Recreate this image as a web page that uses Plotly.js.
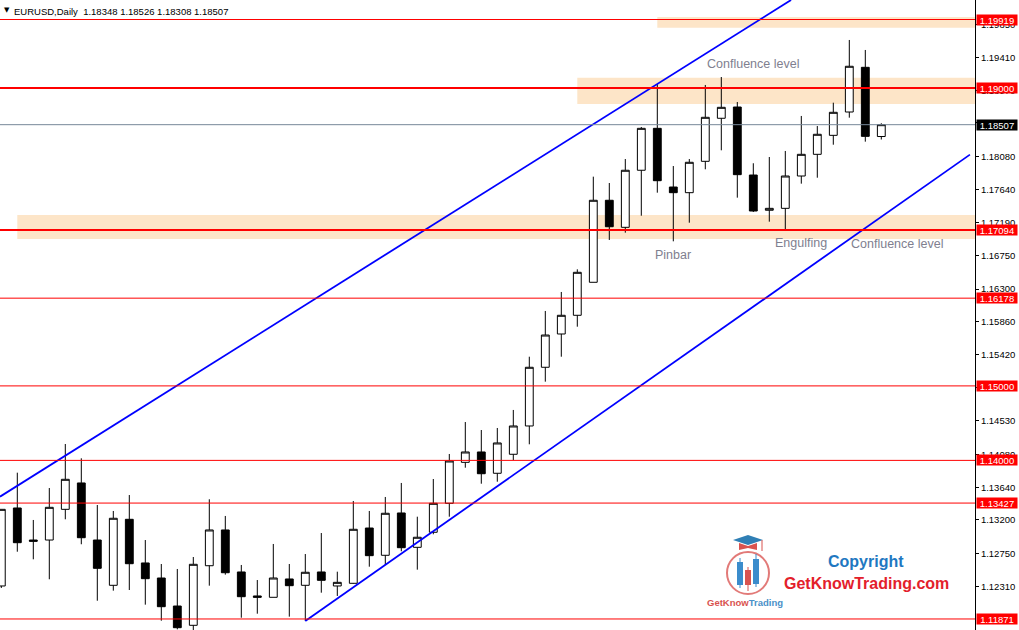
<!DOCTYPE html>
<html>
<head>
<meta charset="utf-8">
<script src="https://cdn.plot.ly/plotly-3.0.1.min.js"></script>
<style>html,body{margin:0;padding:0;background:#fff;}#chart{width:1019px;height:630px;}</style>
</head>
<body>
<div id="chart"></div>
<script>
// ---- Data (EURUSD Daily) ----
const openP  = [1.12314,1.13361,1.12931,1.12931,1.13343,1.13697,1.12931,1.12323,1.13209,1.12623,
                1.12421,1.12045,1.11786,1.12586,1.13066,1.12502,1.12180,1.12162,1.12408,1.12323,
                1.12502,1.12314,1.12350,1.13092,1.12726,1.13294,1.12833,1.13035,1.13424,1.13974,
                1.14113,1.13827,1.14082,1.14462,1.15250,1.15697,1.15948,1.16391,1.17492,1.17129,
                1.17895,1.18458,1.17670,1.17594,1.18015,1.18593,1.18744,1.17831,1.17358,1.17384,
                1.17818,1.18109,1.18364,1.18677,1.19277,1.18348];
const highP  = [1.13343,1.13835,1.13200,1.13629,1.14220,1.14028,1.13401,1.13321,1.13535,1.12931,
                1.12609,1.12542,1.12703,1.13478,1.13254,1.12596,1.12394,1.12878,1.12609,1.12743,
                1.13025,1.12506,1.13455,1.13321,1.13509,1.13697,1.13244,1.13750,1.14086,1.14515,
                1.14408,1.14435,1.14677,1.15392,1.16006,1.16261,1.16565,1.17809,1.17724,1.18046,
                1.18476,1.19053,1.17952,1.18046,1.19040,1.19147,1.18811,1.17989,1.18073,1.18154,
                1.18624,1.18489,1.18802,1.19644,1.19510,1.18526];
const lowP   = [1.12287,1.12774,1.12672,1.12404,1.13209,1.12874,1.12116,1.12251,1.12260,1.12063,
                1.11848,1.11732,1.11710,1.12318,1.12466,1.11888,1.11942,1.12162,1.11902,1.11844,
                1.12224,1.12180,1.12345,1.12573,1.12596,1.12780,1.12533,1.13008,1.13244,1.13902,
                1.13687,1.13714,1.14005,1.14216,1.15057,1.15392,1.15795,1.16391,1.16959,1.17057,
                1.17285,1.17594,1.16941,1.17191,1.17908,1.18163,1.17527,1.17335,1.17205,1.17102,
                1.17715,1.17795,1.18238,1.18601,1.18279,1.18308];
const closeP = [1.13343,1.12895,1.12914,1.13370,1.13746,1.12962,1.12551,1.13223,1.12613,1.12412,
                1.12036,1.11754,1.12605,1.13066,1.12492,1.12170,1.12162,1.12421,1.12318,1.12498,
                1.12390,1.12363,1.13075,1.12721,1.13290,1.12828,1.12968,1.13424,1.13992,1.14113,
                1.13821,1.14234,1.14462,1.15250,1.15683,1.15948,1.16525,1.17492,1.17137,1.17895,
                1.18458,1.17755,1.17594,1.18002,1.18606,1.18740,1.17836,1.17348,1.17384,1.17818,
                1.18109,1.18378,1.18673,1.19291,1.18350,1.18507];
const barIndex = openP.map((_, i) => i);

// horizontal levels
const levelPrices = [1.19919, 1.19000, 1.17094, 1.16178, 1.15000, 1.14000, 1.13427, 1.11871];
const levelLabels = ["1.19919","1.19000","1.17094","1.16178","1.15000","1.14000","1.13427","1.11871"];
const levelWidths = [1.2, 2, 2, 1, 1, 1, 1, 1];
const bidPrice = 1.18507;
const bidLabel = "1.18507";

// zones (start bar, price top, price bottom)
const zoneStart  = [41, 36, 1];
const zoneTop    = [1.19953, 1.19138, 1.17294];
const zoneBottom = [1.19809, 1.18785, 1.16972];

// channel lines (bar index, price)
const upperLineX = [-0.08, 49.36];
const upperLineY = [1.13513, 1.20181];
const lowerLineX = [19.0, 60.54];
const lowerLineY = [1.11844, 1.18105];

// text labels
const noteText  = ["Confluence level", "Pinbar", "Engulfing", "Confluence level"];
const noteX     = [47.0, 42.0, 50.0, 56.0];
const noteY     = [1.19318, 1.16757, 1.16915, 1.16905];

// axis ticks
const tickValues = [1.1985,1.1941,1.1897,1.1853,1.1808,1.1764,1.1719,1.1675,1.1630,
                    1.1586,1.1542,1.1498,1.1453,1.1408,1.1364,1.1320,1.1275,1.1231];
const tickLabels = ["1.19850","1.19410","1.18970","1.18530","1.18080","1.17640","1.17190","1.16750","1.16300",
                    "1.15860","1.15420","1.14980","1.14530","1.14080","1.13640","1.13200","1.12750","1.12310"];

const titleText = "EURUSD,Daily  1.18348 1.18526 1.18308 1.18507";

// ---- Layout helpers ----
const W = 1019, H = 630, MR = 44;
const PW = W - MR;
const px = x => x / PW;
const py = y => 1 - y / H;
const X_RANGE = [-0.08125, 60.856];
const Y_RANGE = [1.11723, 1.201808];

const traces = [
  {
    type: 'candlestick',
    x: barIndex, open: openP, high: highP, low: lowP, close: closeP,
    increasing: {line: {color: '#000000', width: 1}, fillcolor: '#ffffff'},
    decreasing: {line: {color: '#000000', width: 1}, fillcolor: '#000000'},
    whiskerwidth: 0,
    hoverinfo: 'skip',
    showlegend: false
  },
  {type: 'scatter', mode: 'lines', x: upperLineX, y: upperLineY,
   line: {color: '#0000ff', width: 1.8}, hoverinfo: 'skip', showlegend: false},
  {type: 'scatter', mode: 'lines', x: lowerLineX, y: lowerLineY,
   line: {color: '#0000ff', width: 1.8}, hoverinfo: 'skip', showlegend: false}
];

const shapes = [];
zoneStart.forEach((s, i) => {
  shapes.push({type: 'rect', xref: 'x', yref: 'y', x0: s, x1: X_RANGE[1] + 1,
    y0: zoneBottom[i], y1: zoneTop[i], fillcolor: '#fde5c8', line: {width: 0}, layer: 'below'});
});
levelPrices.forEach((p, i) => {
  shapes.push({type: 'line', xref: 'paper', yref: 'y', x0: 0, x1: 1, y0: p, y1: p,
    line: {color: '#ff0000', width: levelWidths[i]}, layer: 'above'});
});
shapes.push({type: 'line', xref: 'paper', yref: 'y', x0: 0, x1: 1, y0: bidPrice, y1: bidPrice,
  line: {color: '#778899', width: 1}, layer: 'above'});

// logo decoration
const red = '#d9534f', blue = '#3b8ccc';
shapes.push({type: 'circle', xref: 'paper', yref: 'paper', x0: px(727), x1: px(769), y0: py(594), y1: py(552),
  line: {color: '#e27a78', width: 2}, fillcolor: 'rgba(0,0,0,0)'});
shapes.push({type: 'path', xref: 'paper', yref: 'paper',
  path: `M ${px(733)},${py(540)} L ${px(748)},${py(535)} L ${px(763)},${py(540)} L ${px(748)},${py(545)} Z`,
  fillcolor: '#2f7fb5', line: {width: 0}});
shapes.push({type: 'path', xref: 'paper', yref: 'paper',
  path: `M ${px(739)},${py(543)} L ${px(748)},${py(546)} L ${px(757)},${py(543)} L ${px(757)},${py(550)} L ${px(748)},${py(548)} L ${px(739)},${py(550)} Z`,
  fillcolor: red, line: {width: 0}});
shapes.push({type: 'line', xref: 'paper', yref: 'paper', x0: px(762), x1: px(762), y0: py(540), y1: py(551),
  line: {color: red, width: 1}});
const logoBars = [[740, 558, 562, 585, 588, blue], [748, 567, 570, 585, 591, red], [756, 554, 559, 584, 587, blue]];
logoBars.forEach(b => {
  shapes.push({type: 'line', xref: 'paper', yref: 'paper', x0: px(b[0]), x1: px(b[0]), y0: py(b[1]), y1: py(b[4]),
    line: {color: b[5], width: 1}});
  shapes.push({type: 'rect', xref: 'paper', yref: 'paper', x0: px(b[0] - 3), x1: px(b[0] + 3), y0: py(b[3]), y1: py(b[2]),
    fillcolor: b[5], line: {width: 0}});
});

const annotations = [];
// title
annotations.push({xref: 'paper', yref: 'paper', x: 0, y: 1, xanchor: 'left', yanchor: 'middle',
  xshift: 2, yshift: -10, text: '▼', showarrow: false,
  font: {family: 'DejaVu Sans', size: 7, color: '#000'}});
annotations.push({xref: 'paper', yref: 'paper', x: 0, y: 1, xanchor: 'left', yanchor: 'middle',
  xshift: 12, yshift: -11, text: titleText, showarrow: false,
  font: {family: 'Liberation Sans, Arial, sans-serif', size: 9.5, color: '#000'}});
// notes
noteText.forEach((t, i) => {
  annotations.push({xref: 'x', yref: 'y', x: noteX[i], y: noteY[i], text: t, showarrow: false,
    xanchor: 'center', yanchor: 'middle',
    font: {family: 'Liberation Sans, Arial, sans-serif', size: 12.5, color: '#80808f'}});
});
// level labels
levelPrices.forEach((p, i) => {
  annotations.push({xref: 'paper', yref: 'y', x: 1, y: p, xanchor: 'left', yanchor: 'middle', xshift: 1,
    text: levelLabels[i], showarrow: false, bgcolor: '#ff0000', width: 40, height: 10, borderpad: 0,
    align: 'center', font: {family: 'Liberation Sans, Arial, sans-serif', size: 9.5, color: '#ffffff'}});
});
annotations.push({xref: 'paper', yref: 'y', x: 1, y: bidPrice, xanchor: 'left', yanchor: 'middle', xshift: 1,
  text: bidLabel, showarrow: false, bgcolor: '#000000', width: 40, height: 10, borderpad: 0,
  align: 'center', font: {family: 'Liberation Sans, Arial, sans-serif', size: 9.5, color: '#ffffff'}});
// logo texts
annotations.push({xref: 'paper', yref: 'paper', x: px(745), y: py(602), xanchor: 'center', yanchor: 'middle',
  text: '<b><span style="color:#d9534f">GetKnow</span><span style="color:#4a90c8">Trading</span></b>',
  showarrow: false, font: {family: 'Liberation Sans, Arial, sans-serif', size: 9.5}});
annotations.push({xref: 'paper', yref: 'paper', x: px(866), y: py(561), xanchor: 'center', yanchor: 'middle',
  text: '<b>Copyright</b>', showarrow: false,
  font: {family: 'Liberation Sans, Arial, sans-serif', size: 16, color: '#1f78c1'}});
annotations.push({xref: 'paper', yref: 'paper', x: px(866), y: py(583), xanchor: 'center', yanchor: 'middle',
  text: '<b>GetKnowTrading.com</b>', showarrow: false,
  font: {family: 'Liberation Sans, Arial, sans-serif', size: 16, color: '#e3202b'}});

const layout = {
  width: W, height: H,
  margin: {l: 0, r: MR, t: 0, b: 0, pad: 0},
  paper_bgcolor: '#ffffff', plot_bgcolor: '#ffffff',
  showlegend: false,
  xaxis: {range: X_RANGE, visible: false, rangeslider: {visible: false}, fixedrange: true},
  yaxis: {range: Y_RANGE, side: 'right', tickvals: tickValues, ticktext: tickLabels,
    ticks: 'outside', ticklen: 3, tickcolor: '#000', tickwidth: 1,
    showline: true, linecolor: '#000', linewidth: 1, showgrid: false, zeroline: false,
    tickfont: {family: 'Liberation Sans, Arial, sans-serif', size: 9.5, color: '#000'}, fixedrange: true},
  shapes: shapes,
  annotations: annotations
};

Plotly.newPlot('chart', traces, layout, {displayModeBar: false, staticPlot: true});
</script>
</body>
</html>
